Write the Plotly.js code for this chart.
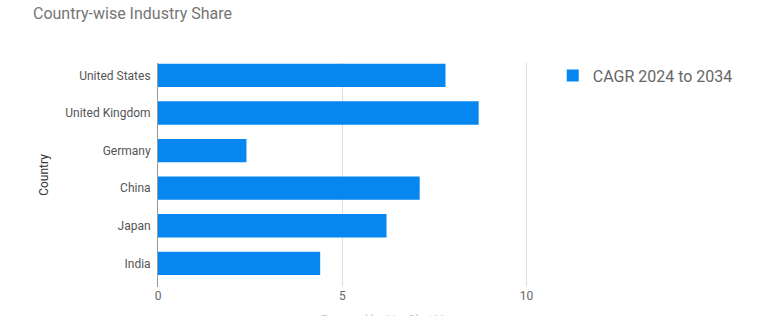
<!DOCTYPE html>
<html>
<head>
<meta charset="utf-8">
<script src="https://cdn.plot.ly/plotly-3.0.1.min.js"></script>
<style>
  html, body { margin: 0; padding: 0; background: #fff; }
  #chart { width: 763px; height: 331px; }
  #cover { position: absolute; left: 0; top: 316px; width: 763px; height: 15px; background: #fff; }
</style>
</head>
<body>
<div id="chart"></div>
<div id="cover"></div>
<script>
const countries = ["United States", "United Kingdom", "Germany", "China", "Japan", "India"];
const cagr = [7.8, 8.7, 2.4, 7.1, 6.2, 4.4];
const seriesName = "CAGR 2024 to 2034";
const xTicks = [0, 5, 10];

const trace = {
  type: "bar",
  orientation: "h",
  y: countries,
  x: cagr,
  name: seriesName,
  marker: { color: "#0587ef" },
  showlegend: true,
  hoverinfo: "x+y"
};

const layout = {
  width: 763,
  height: 331,
  paper_bgcolor: "#ffffff",
  plot_bgcolor: "#ffffff",
  font: { family: "Roboto, sans-serif", color: "#666" },
  margin: { l: 157.5, r: 218, t: 63, b: 44 },
  title: {
    text: "Country-wise Industry Share",
    font: { size: 16, color: "#757575", family: "Roboto, sans-serif" },
    x: 33 / 763, xref: "container", xanchor: "left",
    y: 1 - 8 / 331, yref: "container", yanchor: "top"
  },
  bargap: 0.38,
  xaxis: {
    range: [0, 10.5],
    tickvals: xTicks,
    ticktext: xTicks.map(String),
    showgrid: true,
    gridcolor: "#dddddd",
    gridwidth: 1,
    zeroline: false,
    showline: false,
    ticks: "",
    tickfont: { size: 12, color: "#666" },
    fixedrange: true
  },
  yaxis: {
    type: "category",
    range: [5.63, -0.33],
    showline: true,
    linecolor: "#999999",
    linewidth: 1,
    showgrid: false,
    zeroline: false,
    ticks: "",
    ticklabelstandoff: 4,
    tickfont: { size: 12, color: "#555" },
    title: { text: "Country", font: { size: 12, color: "#333" }, standoff: 14 },
    fixedrange: true
  },
  legend: {
    x: 1.02, xanchor: "left",
    y: 1.02, yanchor: "top",
    font: { size: 16, color: "#666" },
    bgcolor: "rgba(0,0,0,0)"
  },
  annotations: [{
    text: "Powered by LiveChatAI",
    xref: "paper", yref: "paper",
    x: 0.58, y: -0.105,
    xanchor: "center", yanchor: "top",
    showarrow: false,
    font: { size: 12, color: "#c8c8c8" }
  }]
};

Plotly.newPlot("chart", [trace], layout, { displayModeBar: false, staticPlot: true });
</script>
</body>
</html>
